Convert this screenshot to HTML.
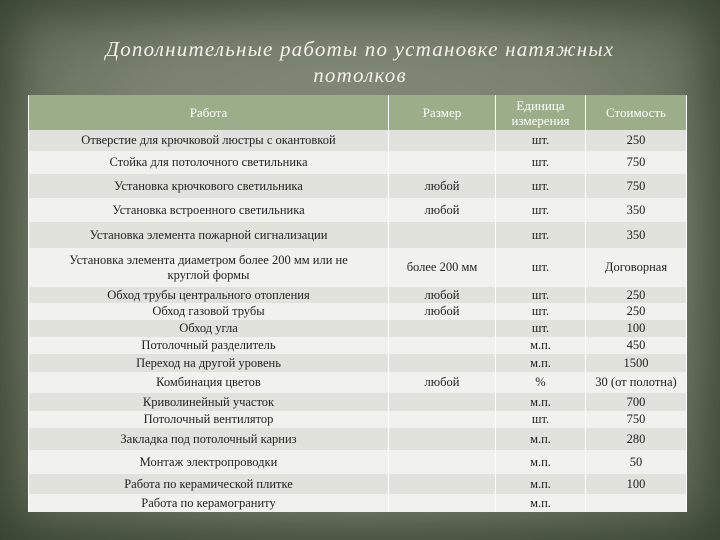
<!DOCTYPE html>
<html><head><meta charset="utf-8"><style>
html,body{margin:0;padding:0}
body{width:720px;height:540px;overflow:hidden;position:relative;
background:radial-gradient(ellipse at 50% 45%,#8b9182 0%,#7a8170 55%,#56614c 100%);font-family:"Liberation Serif","DejaVu Serif",serif}
.edge{position:absolute;inset:0;box-shadow:inset 0 0 45px 14px rgba(40,50,32,.65)}
h1{position:absolute;left:0;top:36px;width:720px;margin:0;text-align:center;font-weight:normal;font-style:italic;font-size:21px;line-height:26px;color:#f2f2ea;letter-spacing:1.2px}
table{position:absolute;left:28px;top:95px;width:658px;border-collapse:collapse;table-layout:fixed;font-size:12.5px;color:#222}
td,th{border-left:1px solid #fff;border-right:1px solid #fff;padding:0;text-align:center;line-height:15px}
th{background:#9cae89;color:#fff;font-weight:normal;font-size:13px;height:35px}
tr.d td{background:#e1e2dc}
tr.l td{background:#f1f2ed}
</style></head><body>
<div class="edge"></div>
<h1>Дополнительные работы по установке натяжных<br>потолков</h1>
<table>
<colgroup><col style="width:360px"><col style="width:107px"><col style="width:90px"><col style="width:101px"></colgroup>
<tr><th>Работа</th><th>Размер</th><th>Единица<br>измерения</th><th>Стоимость</th></tr>
<tr class="d" style="height:21px"><td>Отверстие для крючковой люстры с окантовкой</td><td></td><td>шт.</td><td>250</td></tr>
<tr class="l" style="height:23px"><td>Стойка для потолочного светильника</td><td></td><td>шт.</td><td>750</td></tr>
<tr class="d" style="height:24px"><td>Установка крючкового светильника</td><td>любой</td><td>шт.</td><td>750</td></tr>
<tr class="l" style="height:24px"><td>Установка встроенного светильника</td><td>любой</td><td>шт.</td><td>350</td></tr>
<tr class="d" style="height:26px"><td>Установка элемента пожарной сигнализации</td><td></td><td>шт.</td><td>350</td></tr>
<tr class="l" style="height:39px"><td>Установка элемента диаметром более 200 мм или не<br>круглой формы</td><td>более 200 мм</td><td>шт.</td><td>Договорная</td></tr>
<tr class="d" style="height:16px"><td>Обход трубы центрального отопления</td><td>любой</td><td>шт.</td><td>250</td></tr>
<tr class="l" style="height:17px"><td>Обход газовой трубы</td><td>любой</td><td>шт.</td><td>250</td></tr>
<tr class="d" style="height:17px"><td>Обход угла</td><td></td><td>шт.</td><td>100</td></tr>
<tr class="l" style="height:17px"><td>Потолочный разделитель</td><td></td><td>м.п.</td><td>450</td></tr>
<tr class="d" style="height:18px"><td>Переход на другой уровень</td><td></td><td>м.п.</td><td>1500</td></tr>
<tr class="l" style="height:21px"><td>Комбинация цветов</td><td>любой</td><td>%</td><td>30 (от полотна)</td></tr>
<tr class="d" style="height:18px"><td>Криволинейный участок</td><td></td><td>м.п.</td><td>700</td></tr>
<tr class="l" style="height:17px"><td>Потолочный вентилятор</td><td></td><td>шт.</td><td>750</td></tr>
<tr class="d" style="height:22px"><td>Закладка под потолочный карниз</td><td></td><td>м.п.</td><td>280</td></tr>
<tr class="l" style="height:24px"><td>Монтаж электропроводки</td><td></td><td>м.п.</td><td>50</td></tr>
<tr class="d" style="height:20px"><td>Работа по керамической плитке</td><td></td><td>м.п.</td><td>100</td></tr>
<tr class="l" style="height:18px"><td>Работа по керамограниту</td><td></td><td>м.п.</td><td></td></tr>
</table>
</body></html>
